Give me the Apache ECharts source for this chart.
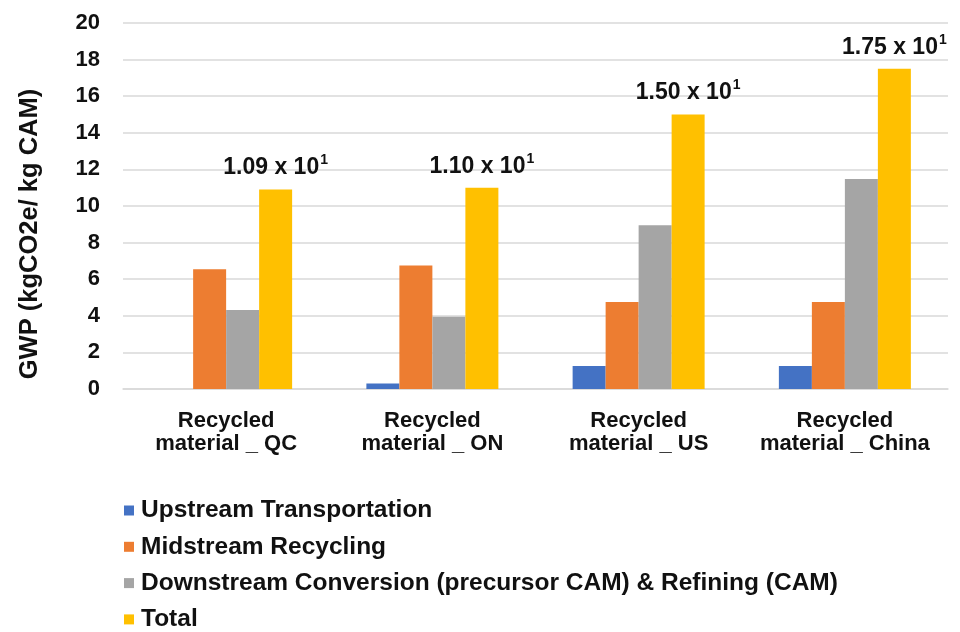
<!DOCTYPE html>
<html>
<head>
<meta charset="utf-8">
<script src="https://cdn.jsdelivr.net/npm/echarts@6/dist/echarts.min.js"></script>
<style>html,body{margin:0;padding:0;background:#fff;}#c{width:960px;height:632px;}</style>
</head>
<body>
<div id="c"></div>
<script>
const categories = ['Recycled\nmaterial _ QC', 'Recycled\nmaterial _ ON', 'Recycled\nmaterial _ US', 'Recycled\nmaterial _ China'];
const seriesNames = ['Upstream Transportation', 'Midstream Recycling', 'Downstream Conversion (precursor CAM) & Refining (CAM)', 'Total'];
const upstream = [0, 0.3, 1.26, 1.26];
const midstream = [6.55, 6.75, 4.75, 4.75];
const downstream = [4.32, 3.95, 8.95, 11.48];
const total = [10.9, 11.0, 15.0, 17.5];
const totalMantissa = ['1.09', '1.10', '1.50', '1.75'];
const totalExponent = ['1', '1', '1', '1'];
const yTicks = [0, 2, 4, 6, 8, 10, 12, 14, 16, 18, 20];

const colors = ['#4472C4', '#ED7D31', '#A5A5A5', '#FFC000'];
const font = "'Liberation Sans', Arial, sans-serif";
const ink = '#111111';

const chart = echarts.init(document.getElementById('c'), null, {renderer: 'canvas'});
const values = [upstream, midstream, downstream, total];
const series = values.map((v, i) => {
  const s = {
    name: seriesNames[i],
    type: 'bar',
    data: v,
    barGap: '0%',
    barCategoryGap: '36%',
    itemStyle: {color: colors[i]},
    emphasis: {disabled: true}
  };
  if (i === 3) {
    s.label = {
      show: true,
      position: 'top',
      distance: 10,
      formatter: p => '{a|' + totalMantissa[p.dataIndex] + ' x 10}{b|' + totalExponent[p.dataIndex] + '}',
      rich: {
        a: {fontFamily: font, fontWeight: 'bold', fontSize: 23, color: ink, lineHeight: 26, verticalAlign: 'bottom'},
        b: {fontFamily: font, fontWeight: 'bold', fontSize: 14, color: ink, lineHeight: 26, verticalAlign: 'top', padding: [0, 0, 0, 1]}
      }
    };
  }
  return s;
});

const legends = seriesNames.map((name, i) => ({
  orient: 'vertical',
  left: 124,
  top: 498 + i * 36.3,
  padding: 0,
  itemWidth: 10,
  itemHeight: 10,
  icon: 'rect',
  data: [name],
  selectedMode: false,
  textStyle: {fontFamily: font, fontWeight: 'bold', fontSize: 24.5, color: ink, lineHeight: 24, padding: [0, 0, 0, 2]}
}));

chart.setOption({
  animation: false,
  backgroundColor: '#fff',
  color: colors,
  grid: {left: 123, right: 12, top: 23, bottom: 243, containLabel: false},
  legend: legends,
  xAxis: {
    type: 'category',
    data: categories,
    axisLine: {show: true, lineStyle: {color: '#d9d9d9', width: 1.5}},
    axisTick: {show: false},
    axisLabel: {fontFamily: font, fontWeight: 'bold', fontSize: 22, color: ink, lineHeight: 23, margin: 20, interval: 0}
  },
  yAxis: {
    type: 'value',
    min: yTicks[0],
    max: yTicks[yTicks.length - 1],
    interval: yTicks[1] - yTicks[0],
    name: 'GWP (kgCO2e/ kg CAM)',
    nameLocation: 'middle',
    nameGap: 80,
    nameTextStyle: {fontFamily: font, fontWeight: 'bold', fontSize: 25.5, color: ink, padding: [0, 56, 0, 0]},
    axisLine: {show: false},
    axisTick: {show: false},
    splitLine: {show: true, lineStyle: {color: '#d9d9d9', width: 1.5}},
    axisLabel: {fontFamily: font, fontWeight: 'bold', fontSize: 22, color: ink, margin: 23}
  },
  series: series
});
</script>
</body>
</html>
